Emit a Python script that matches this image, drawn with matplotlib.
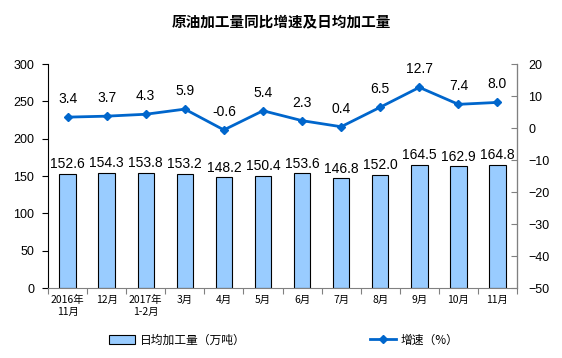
import matplotlib.pyplot as plt
from matplotlib.lines import Line2D
from matplotlib.patches import Patch

plt.rcParams['font.family'] = ['Noto Sans CJK SC', 'DejaVu Sans']

# data
months = ["2016年\n11月", "12月", "2017年\n1-2月", "3月", "4月", "5月",
          "6月", "7月", "8月", "9月", "10月", "11月"]
daily_output = [152.6, 154.3, 153.8, 153.2, 148.2, 150.4,
                153.6, 146.8, 152.0, 164.5, 162.9, 164.8]
growth = [3.4, 3.7, 4.3, 5.9, -0.6, 5.4, 2.3, 0.4, 6.5, 12.7, 7.4, 8.0]

fig = plt.figure(figsize=(5.62, 3.58), dpi=100)
ax = fig.add_axes([0.0854, 0.1955, 0.8346, 0.6257])
ax2 = ax.twinx()

x = list(range(len(months)))
ax.bar(x, daily_output, width=0.42, color="#99CCFF", edgecolor="black", linewidth=0.8)
for xi, v in zip(x, daily_output):
    ax.annotate(f"{v:.1f}", (xi, v), xytext=(0, 2), textcoords="offset points",
                ha="center", va="bottom", fontsize=10, family="Liberation Sans")

ax2.plot(x, growth, color="#0066CC", linewidth=2, marker="D", markersize=4.5)
for xi, v in zip(x, growth):
    ax2.annotate(f"{v:.1f}", (xi, v), xytext=(0, 8), textcoords="offset points",
                 ha="center", va="bottom", fontsize=10, family="Liberation Sans")

ax.set_xlim(-0.5, len(months) - 0.5)
ax.set_ylim(0, 300)
ax.set_yticks(range(0, 301, 50))
ax2.set_ylim(-50, 20)
ax2.set_yticks(range(-50, 21, 10))

ax.set_xticks([i - 0.5 for i in range(len(months) + 1)], minor=False)
ax.set_xticklabels([])
ax.set_xticks(x, minor=True)
ax.set_xticklabels(months, minor=True, fontsize=7.5)
ax.tick_params(axis="x", which="minor", length=0, pad=5)
ax.tick_params(axis="x", which="major", length=4, color="#808080", direction="out")
ax.tick_params(axis="y", length=4, labelsize=9, direction="out", pad=6)
ax2.tick_params(axis="y", length=4, labelsize=9, direction="in", pad=8, color="#808080")
for lab in ax.get_yticklabels() + ax2.get_yticklabels():
    lab.set_family("Liberation Sans")

for a in (ax, ax2):
    a.spines["top"].set_visible(False)
ax.spines["bottom"].set_color("#808080")
ax.spines["left"].set_color("black")
ax2.spines["right"].set_color("#808080")
ax2.spines["left"].set_visible(False)
ax2.spines["bottom"].set_visible(False)

fig.suptitle("原油加工量同比增速及日均加工量", x=0.5, y=0.962, fontsize=10.5, fontweight="bold")

handles = [Patch(facecolor="#99CCFF", edgecolor="black", linewidth=0.8),
           Line2D([0], [0], color="#0066CC", linewidth=2, marker="D", markersize=4.5)]
fig.legend(handles, ["日均加工量（万吨）", "增速（%）"], loc="center", ncol=2,
           bbox_to_anchor=(0.505, 0.05), frameon=False, fontsize=8.5, columnspacing=10.5,
           handlelength=2.2, handletextpad=0.4)

fig.savefig("out.png", dpi=100)
